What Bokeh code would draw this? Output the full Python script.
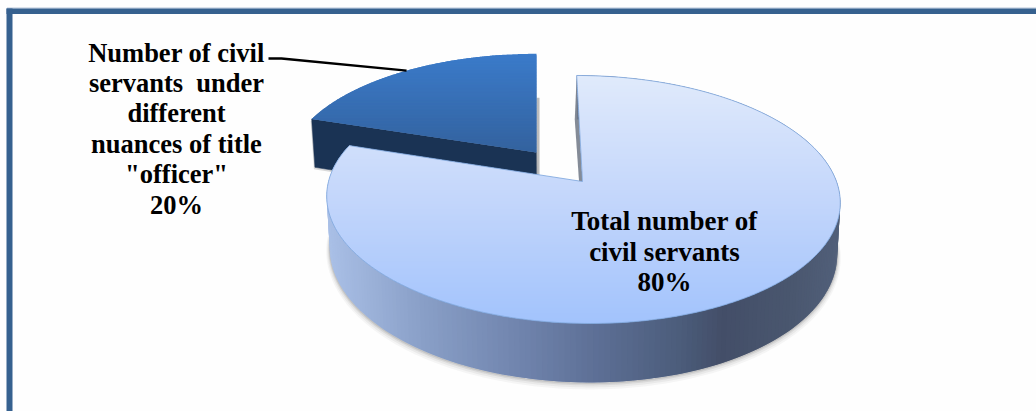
import math
from bokeh.core.properties import value
from bokeh.embed import file_html
from bokeh.plotting import figure
from bokeh.resources import INLINE

# Pie data
categories = ["Total number of civil servants",
              "Number of civil servants under different nuances of title \"officer\""]
shares = [80, 20]
share_labels = ["80%", "20%"]
big_label_lines = ["Total number of", "civil servants", share_labels[0]]
small_label_lines = ["Number of civil", "servants\u00a0 under", "different",
                     "nuances of title", "\"officer\"", share_labels[1]]

# Colour ramps
BIG_TOP = [(0.0, "#e0eafb"), (0.5, "#c3d6fb"), (1.0, "#a2c3fc")]
SMALL_TOP = [(0.0, "#3b7bca"), (1.0, "#33629e")]
WALL = [(0.0, "#a9bfe6"), (0.18, "#8aa0c8"), (0.38, "#7084ad"), (0.54, "#5c6e94"),
        (0.70, "#4b5c7a"), (0.78, "#434e68"), (0.92, "#4a576f"), (1.0, "#515f79")]
CUT_DARK = "#1a3354"
FRAME = "#36618f"

# Perspective model of the tilted disc
VANISH_X = 536.0
TILT = 0.145
DEPTH = 50.4
WALL_CENTRE_X = 583.0
WALL_SHRINK = 0.988


def hex_rgb(c):
    return tuple(int(c[i:i + 2], 16) for i in (1, 3, 5))


def ramp(stops, t):
    t = max(0.0, min(1.0, t))
    for (t0, c0), (t1, c1) in zip(stops, stops[1:]):
        if t <= t1:
            f = (t - t0) / (t1 - t0)
            a, b = hex_rgb(c0), hex_rgb(c1)
            return "#%02x%02x%02x" % tuple(round(a[i] + (b[i] - a[i]) * f) for i in range(3))
    return stops[-1][1]


def project(deg, radius, slice_geo):
    """Screen position of a point on a slice's top face, clockwise from 12 o'clock."""
    off, y0, a, b = slice_geo
    u = math.sin(math.radians(deg)) * radius
    v = -math.cos(math.radians(deg)) * radius
    s = 1.0 / (1.0 - TILT * v)
    return VANISH_X + (off + a * u) * s, y0 + b * v * s, s


def drop(pt):
    """Same point on the bottom face of the disc."""
    x, y, s = pt
    return WALL_CENTRE_X + (x - WALL_CENTRE_X) * WALL_SHRINK, y + DEPTH * s


def sector(start, sweep, geo, n=240):
    pts = [project(start + sweep * i / n, 1.0, geo)[:2] for i in range(n + 1)]
    return pts + [project(0, 0.0, geo)[:2]]


def clip_band(poly, y0, y1):
    def clip(points, inside, cross):
        out = []
        for i, p in enumerate(points):
            q = points[i - 1]
            if inside(p):
                if not inside(q):
                    out.append(cross(q, p))
                out.append(p)
            elif inside(q):
                out.append(cross(q, p))
        return out

    def at(level):
        def f(p, q):
            t = (level - p[1]) / (q[1] - p[1])
            return p[0] + (q[0] - p[0]) * t, level
        return f

    res = clip(poly, lambda p: p[1] >= y0, at(y0))
    if res:
        res = clip(res, lambda p: p[1] <= y1, at(y1))
    return res


def shade_vertical(fig, poly, stops, step=2.0):
    # Each band runs a little into the next one so no seams show between them
    ys = [p[1] for p in poly]
    top, bottom = min(ys), max(ys)
    y = top
    while y < bottom:
        band = clip_band(poly, y, y + step + 1.5)
        if band:
            c = ramp(stops, (y + step / 2 - top) / (bottom - top))
            fig.patch([p[0] for p in band], [p[1] for p in band],
                      fill_color=c, line_color=None)
        y += step


p = figure(width=1036, height=411, x_range=(0, 1036), y_range=(411, 0),
           output_backend="svg", toolbar_location=None, min_border=0,
           background_fill_color="#fefefe", border_fill_color="#ffffff")
p.axis.visible = False
p.xaxis.visible = False
p.yaxis.visible = False
p.grid.visible = False
p.outline_line_color = None

# Frame: top and left bars only, the page cuts it off on the other sides
p.line([6.5, 1036], [7.5, 7.5], line_color="#b7c6da", line_width=1)
p.quad(left=[6, 6], right=[1036, 12], top=[8, 8], bottom=[13.5, 411],
       fill_color=FRAME, line_color=None)

# Slice geometry: shift off the vanishing line, apex y, radii on screen
big_geo = (46.0, 181.0, 254.0, 121.4)
small_geo = (0.0, 152.0, 247.0, 113.0)

small_sweep = 360.0 * shares[1] / sum(shares)
big_sweep = 360.0 * shares[0] / sum(shares)

# Small slice: cut face, then soft edge on its right, then top
s_left = project(big_sweep, 1.0, small_geo)
s_apex = project(0, 0.0, small_geo)
s_end = project(360.0, 1.0, small_geo)
cut_x = [s_left[0], s_apex[0], drop(s_apex)[0], drop(s_left)[0]]
cut_y = [s_left[1], s_apex[1], drop(s_apex)[1], drop(s_left)[1]]
p.patch([x - 1 for x in cut_x], [y + 2 for y in cut_y], fill_color="#999999",
        fill_alpha=0.35, line_color=None)
p.patch(cut_x, cut_y, fill_color=CUT_DARK, line_color=CUT_DARK, line_width=0.5)
p.line([s_apex[0] + 1.5, s_apex[0] + 1.5], [drop(s_end)[1], drop(s_apex)[1]],
       line_color="#8f8f8f", line_width=3, line_alpha=0.6)
shade_vertical(p, sector(big_sweep, small_sweep, small_geo), SMALL_TOP, step=1.5)

# Leader from the label to the middle of the small slice's rim
leader_end = project(big_sweep + small_sweep / 2, 1.0, small_geo)
p.line([268, 281, leader_end[0]], [58, 58, leader_end[1]],
       line_color="#000000", line_width=2.4)

# Big slice: drop shadow, wall, cut face beside the gap, top
N_WALL = 260
wall_angles = [big_sweep * i / N_WALL for i in range(N_WALL + 1)]
top_rim = [project(d, 1.0, big_geo) for d in wall_angles]
low_rim = [drop(t) for t in top_rim]
front = [b for b, t in zip(low_rim, wall_angles) if 72 < t < 270]
for grow, alpha in ((7, 0.06), (5, 0.08), (3, 0.12), (1.5, 0.18)):
    p.line([b[0] for b in front], [b[1] + grow * 0.5 for b in front],
           line_color="#666666", line_width=grow, line_alpha=alpha)

x_min = min(b[0] for b in low_rim)
x_max = max(b[0] for b in low_rim)
# Wall pieces overlap their neighbour; going outwards from the front keeps the ramp clean
order = sorted(range(N_WALL - 2), key=lambda i: top_rim[i][0])
for i in order:
    a, b = top_rim[i], top_rim[i + 2]
    c, d = low_rim[i + 2], low_rim[i]
    c_mid = ramp(WALL, ((a[0] + b[0]) / 2 - x_min) / (x_max - x_min))
    p.patch([a[0], b[0], c[0], d[0]], [a[1], b[1], c[1], d[1]],
            fill_color=c_mid, line_color=None)

b_start = project(0, 1.0, big_geo)
b_apex = project(0, 0.0, big_geo)
p.patch([b_apex[0], b_start[0], drop(b_start)[0] - 2, drop(b_apex)[0]],
        [b_apex[1], b_start[1], drop(b_start)[1], drop(b_apex)[1]],
        fill_color="#6f7785", line_color=None, fill_alpha=0.85)

big_outline = sector(0.0, big_sweep, big_geo)
shade_vertical(p, big_outline, BIG_TOP, step=2.0)
p.patch([q[0] for q in big_outline], [q[1] for q in big_outline],
        fill_color=None, line_color="#7ea6dc", line_width=0.8)

# Labels
font = value("Liberation Serif")
big_y = [220, 251, 281]
small_y = [52, 82, 112, 143, 173, 204]
p.text(x=[664] * len(big_label_lines), y=big_y, text=big_label_lines,
       text_font=font, text_font_style="bold", text_font_size="27px",
       text_color="#000000", text_align="center", text_baseline="middle")
p.text(x=[176] * len(small_label_lines), y=small_y, text=small_label_lines,
       text_font=font, text_font_style="bold", text_font_size="26.5px",
       text_color="#000000", text_align="center", text_baseline="middle")

open("out.html", "w").write(file_html(p, INLINE))
